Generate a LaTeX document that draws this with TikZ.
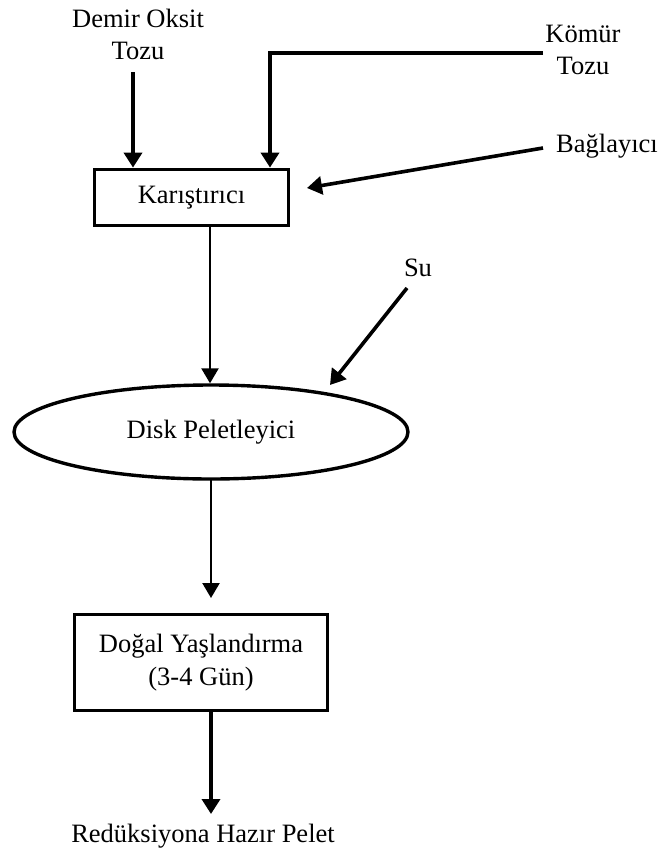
\documentclass[tikz,border=0pt]{standalone}
\usepackage{fontspec}
\setmainfont{Liberation Serif}
\usetikzlibrary{arrows.meta,shapes.geometric}
\tikzset{
  lbl/.style={inner sep=0pt, align=center, font=\fontsize{26.5}{32}\selectfont},
  procbox/.style={draw, line width=3.8pt, rectangle, inner sep=0pt, font=\fontsize{26.5}{33}\selectfont, align=center},
  disk/.style={draw, line width=3.4pt, ellipse, inner sep=0pt, font=\fontsize{26.5}{32}\selectfont},
  arr/.style={line width=3.6pt, -{Triangle[width=18pt,length=15pt]}},
  thinarr/.style={line width=2.4pt, -{Triangle[width=17pt,length=15pt]}}
}
\begin{document}
\begin{tikzpicture}[x=1pt,y=-1pt]
\useasboundingbox (0,0) rectangle (661,852);
\fill[white] (0,0) rectangle (661,852);
% nodes
\node[lbl] (dem) at (138,34) {Demir Oksit\\Tozu};
\node[lbl] (kom) at (583,50) {Kömür\\Tozu};
\node[lbl, anchor=west] (bag) at (556,146) {Bağlayıcı};
\node[lbl] (su) at (418,268) {Su};
\node[procbox, minimum width=194pt, minimum height=56pt] (mix) at (191.5,197.5) {Karıştırıcı};
\node[disk, minimum width=394pt, minimum height=94pt] (disk) at (211,432) {Disk Peletleyici};
\node[procbox, minimum width=253pt, minimum height=96pt] (age) at (201,662.5) {Doğal Yaşlandırma\\(3-4 Gün)};
\node[lbl] (out) at (203,836) {Redüksiyona Hazır Pelet};
% helper coordinates
\coordinate (demS) at (133,72);
\coordinate (komE) at (543,53);
\coordinate (bagS) at (543,148);
\coordinate (bagT) at (307,188);
\coordinate (suS) at (407,288);
\coordinate (suT) at (330,385);
\coordinate (d1) at (211,480);
\coordinate (d2) at (211,598);
\coordinate (o1) at (211,712);
\coordinate (o2) at (211,814);
% connectors
\draw[arr] (demS) -- (demS |- mix.north);
\draw[arr] (komE) -| (270,0 |- mix.north);
\draw[arr] (bagS) -- (bagT);
\draw[thinarr] (210,0 |- mix.south) -- (210,0 |- disk.north);
\draw[arr] (suS) -- (suT);
\draw[thinarr] (d1) -- (d2);
\draw[arr] (o1) -- (o2);
\end{tikzpicture}
\end{document}
